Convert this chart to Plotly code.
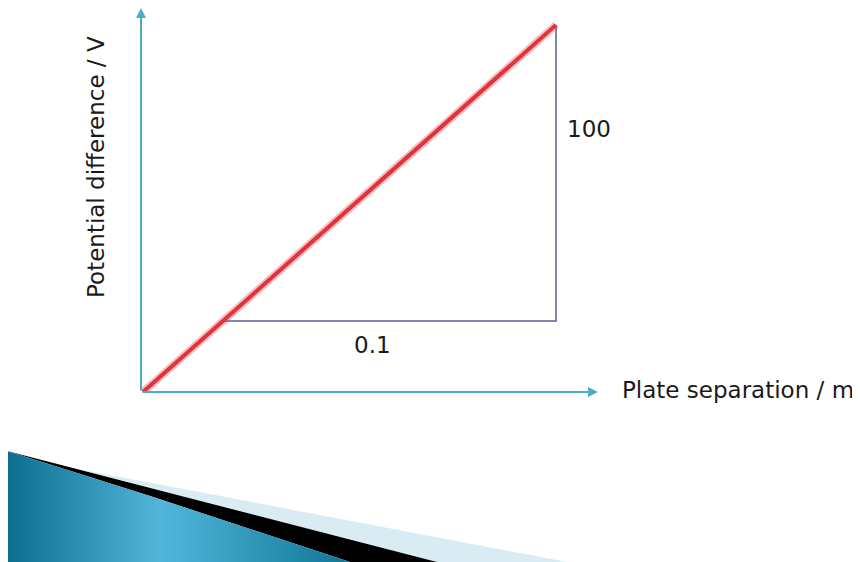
import plotly.graph_objects as go

# data (plate separation in m, potential difference in V)
line_x = [0, 0.124]
line_v = [0, 124]
tri_x = [0.024, 0.124, 0.124]
tri_v = [24, 24, 124]
run_label = "0.1"
rise_label = "100"
x_title = "Plate separation / m"
y_title = "Potential difference / V"

# page body has an 8px margin, so the figure is drawn 8px in
OFF = 8
W, H = 860 - OFF, 562 - OFF
AXIS_COL = "#4bacc6"
FONT = "DejaVu Sans"
FS = 23

# decorative slide swoosh, in screen pixel coords
blue_x = [7, 150, 250, 350, 7, 7]
blue_y = [451, 496, 529, 562, 562, 451]
black_x = [7, 437, 350, 250, 150, 7]
black_y = [451, 562, 562, 529, 496, 451]
light_x = [78, 567, 437, 78]
light_y = [469, 562, 562, 469]

fig = go.Figure()

fig.add_trace(go.Scatter(x=light_x, y=light_y, fill="toself", fillcolor="#d9ecf4",
                         line=dict(width=0), mode="lines", xaxis="x2", yaxis="y2",
                         hoverinfo="skip"))
fig.add_trace(go.Scatter(x=black_x, y=black_y, fill="toself", fillcolor="#000000",
                         line=dict(width=0), mode="lines", xaxis="x2", yaxis="y2",
                         hoverinfo="skip"))
fig.add_trace(go.Scatter(x=blue_x, y=blue_y, fill="toself",
                         fillgradient=dict(type="horizontal",
                                           colorscale=[[0, "#0b6e8e"], [0.45, "#52b6da"], [1, "#0e7696"]]),
                         line=dict(width=0), mode="lines", xaxis="x2", yaxis="y2",
                         hoverinfo="skip"))

# triangle
fig.add_trace(go.Scatter(x=tri_x, y=tri_v, mode="lines",
                         line=dict(color="#5b5f97", width=1.5), hoverinfo="skip"))
# red line with soft glow
fig.add_trace(go.Scatter(x=line_x, y=line_v, mode="lines",
                         line=dict(color="rgba(225,70,80,0.35)", width=8), hoverinfo="skip"))
fig.add_trace(go.Scatter(x=line_x, y=line_v, mode="lines",
                         line=dict(color="#e2323c", width=4), hoverinfo="skip"))

txt = dict(family=FONT, size=FS, color="#1a1a1a")
ann = [
    # axis arrows
    dict(x=0.1366, y=0, ax=-0.0006, ay=0, xref="x", yref="y", axref="x", ayref="y",
         showarrow=True, arrowhead=2, arrowsize=1, arrowwidth=2, arrowcolor=AXIS_COL, text=""),
    dict(x=-0.0006, y=129.7, ax=-0.0006, ay=0, xref="x", yref="y", axref="x", ayref="y",
         showarrow=True, arrowhead=2, arrowsize=1, arrowwidth=2, arrowcolor=AXIS_COL, text=""),
    # triangle labels
    dict(x=tri_x[1], y=89, xref="x", yref="y", text=rise_label, showarrow=False,
         xanchor="left", xshift=9, font=txt),
    dict(x=0.069, y=16, xref="x", yref="y", text=run_label, showarrow=False, font=txt),
    # axis titles
    dict(x=620, y=390, xref="x2", yref="y2", text=x_title, showarrow=False,
         xanchor="left", font=txt),
    dict(x=96, y=167, xref="x2", yref="y2", text=y_title, showarrow=False, textangle=-90,
         font=txt),
]

fig.update_layout(
    width=W, height=H, margin=dict(l=0, r=0, t=0, b=0),
    paper_bgcolor="white", plot_bgcolor="rgba(0,0,0,0)", showlegend=False,
    xaxis=dict(domain=[(141 - OFF) / W, (598 - OFF) / W], range=[-0.0006, 0.1366], visible=False),
    yaxis=dict(domain=[(H + OFF - 392) / H, 1.0], range=[0, 129.7], visible=False),
    xaxis2=dict(domain=[0, 1], range=[OFF, W + OFF], visible=False, anchor="y2"),
    yaxis2=dict(domain=[0, 1], range=[H + OFF, OFF], visible=False, anchor="x2"),
    annotations=ann,
)

fig.write_html("out.html")
